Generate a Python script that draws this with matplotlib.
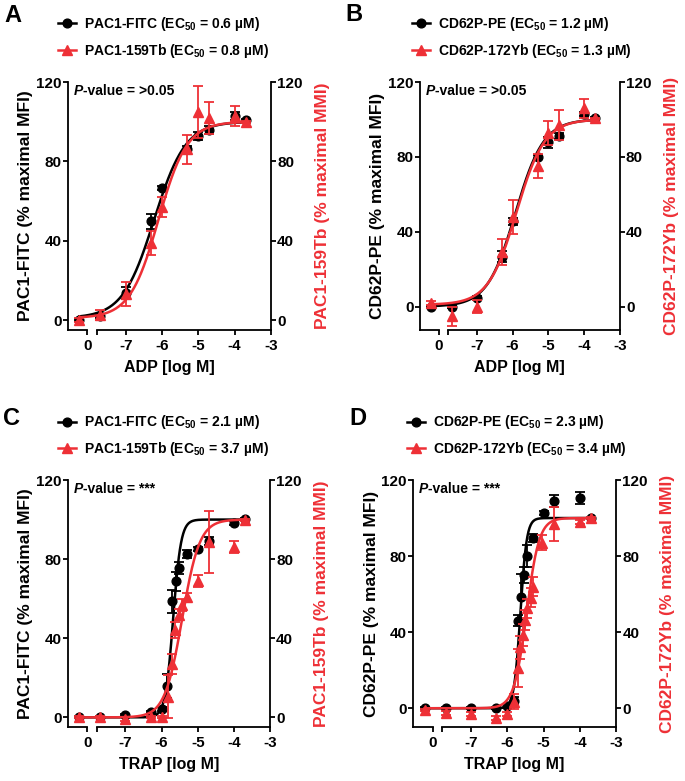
import numpy as np
import matplotlib.pyplot as plt
from matplotlib.lines import Line2D
import matplotlib.transforms as mtransforms

plt.rcParams['font.family'] = ['Liberation Sans', 'DejaVu Sans']
plt.rcParams['font.weight'] = 'bold'
plt.rcParams['axes.labelweight'] = 'bold'
plt.rcParams['mathtext.fontset'] = 'custom'
plt.rcParams['mathtext.rm'] = 'Liberation Sans:bold'
plt.rcParams['mathtext.bf'] = 'Liberation Sans:bold'
plt.rcParams['mathtext.it'] = 'Liberation Sans:bold:italic'
plt.rcParams['mathtext.default'] = 'rm'

RED = '#EE3036'
Z = -8.28  # where the "0" concentration sits on the broken axis

# --- A: ADP, PAC1 ---
a_x = [Z, -7.7, -7, -6.3, -6, -5.3, -5, -4.7, -4, -3.7]
a_fitc = [0, 2, 13.8, 49.7, 66.5, 86, 92.6, 96, 102.7, 100.7]
a_fitc_err = [0.5, 1, 3, 3.7, 1, 1.5, 2, 2, 2, 0.5]
a_tb = [0, 2.5, 13, 38.7, 57, 86, 105, 102, 103, 100]
a_tb_err = [1, 2.5, 6, 6, 5, 7.5, 13, 8, 5, 0.5]

# --- B: ADP, CD62P ---
b_x = [Z, -7.7, -7, -6.3, -6, -5.3, -5, -4.7, -4, -3.7]
b_pe = [-0.4, 0, 4.5, 26.7, 45.5, 80, 87.7, 91, 103, 100.7]
b_pe_err = [0.5, 1, 1, 3, 2, 1, 3, 1.5, 1, 0.5]
b_yb = [2, -5.3, 0, 29, 48, 75, 92.7, 97, 106, 100.5]
b_yb_err = [1, 5, 3.5, 7, 9, 6.5, 6.5, 8, 5, 0.5]

# --- C: TRAP, PAC1 ---
c_x_fitc = [Z, -7.7, -7, -6.3, -6, -5.84, -5.7, -5.6, -5.52, -5.3, -5, -4.7, -4, -3.7]
c_fitc = [0, 0, 1, 2.5, 4.2, 16, 58.6, 68.7, 75.4, 82.7, 85, 89, 98.2, 100.4]
c_fitc_err = [0.5, 0.5, 0.5, 0.5, 1, 6, 6, 5, 3, 2, 1, 2, 1, 0.5]
c_x_tb = [Z, -7.7, -7, -6.3, -6, -5.82, -5.7, -5.64, -5.52, -5.43, -5.3, -5, -4.7, -4, -3.7]
c_tb = [0, 0, -1, 0, 0, 10.5, 27, 44, 52, 57, 61, 69, 88.5, 86, 100]
c_tb_err = [0.5, 0.5, 1, 0.5, 0.5, 11, 5, 4, 3, 3, 2, 3, 15.6, 3, 0.5]

# --- D: TRAP, CD62P ---
d_x_pe = [Z, -7.7, -7, -6.3, -6, -5.82, -5.7, -5.62, -5.54, -5.47, -5.3, -5, -4.7, -4, -3.7]
d_pe = [0, 0, 0, 0, 1, 4, 46, 58.5, 70, 80, 89.5, 102.5, 109, 110.5, 100]
d_pe_err = [0.5, 0.5, 0.5, 0.5, 1, 2, 3, 12, 4, 6, 2, 1, 3, 3, 0.5]
d_x_yb = [Z, -7.7, -7, -6.3, -6, -5.82, -5.7, -5.64, -5.56, -5.5, -5.45, -5.36, -5.29, -5.04, -4.7, -4, -3.7]
d_yb = [-1, -2.6, -3.2, -5.3, -3, 3.5, 21, 32, 38.5, 46.4, 52.5, 58, 64, 87, 97, 98, 100]
d_yb_err = [0.5, 1, 1, 1, 1, 4, 10, 6, 6, 5, 5, 5, 5, 4, 9, 1, 0.5]

# fitted 4PL parameters: bottom, top, logEC50, hill
a_fit = [(1, 100, -6.22, 1.0), (1, 100, -6.10, 1.1)]
b_fit = [(0, 100, -5.92, 1.1), (1, 100, -5.89, 1.1)]
c_fit = [(0, 100, -5.68, 4.0), (0, 100, -5.43, 1.8)]
d_fit = [(0, 100, -5.64, 5.0), (0, 100, -5.47, 2.5)]


def logistic(x, p):
    bot, top, lec, h = p
    return bot + (top - bot) / (1 + 10 ** ((lec - x) * h))


panels = [
    ('A', [0.0988, 0.5775, 0.2968, 0.3175], -5, 'ADP [log M]',
     'PAC1-FITC (% maximal MFI)', 'PAC1-159Tb (% maximal MMI)',
     'PAC1-FITC (EC$_{50}$ = 0.6 µM)', 'PAC1-159Tb (EC$_{50}$ = 0.8 µM)', '>0.05',
     a_x, a_fitc, a_fitc_err, a_x, a_tb, a_tb_err, a_fit, -0.05),
    ('B', [0.6127, 0.5775, 0.292, 0.3175], -12.5, 'ADP [log M]',
     'CD62P-PE (% maximal MFI)', 'CD62P-172Yb (% maximal MMI)',
     'CD62P-PE (EC$_{50}$ = 1.2 µM)', 'CD62P-172Yb (EC$_{50}$ = 1.3 µM)', '>0.05',
     b_x, b_pe, b_pe_err, b_x, b_yb, b_yb_err, b_fit, -0.04),
    ('C', [0.0988, 0.0688, 0.2953, 0.3166], -5, 'TRAP [log M]',
     'PAC1-FITC (% maximal MFI)', 'PAC1-159Tb (% maximal MMI)',
     'PAC1-FITC (EC$_{50}$ = 2.1 µM)', 'PAC1-159Tb (EC$_{50}$ = 3.7 µM)', '***',
     c_x_fitc, c_fitc, c_fitc_err, c_x_tb, c_tb, c_tb_err, c_fit, -0.05),
    ('D', [0.603, 0.0688, 0.2964, 0.3166], -10, 'TRAP [log M]',
     'CD62P-PE (% maximal MFI)', 'CD62P-172Yb (% maximal MMI)',
     'CD62P-PE (EC$_{50}$ = 2.3 µM)', 'CD62P-172Yb (EC$_{50}$ = 3.4 µM)', '***',
     d_x_pe, d_pe, d_pe_err, d_x_yb, d_yb, d_yb_err, d_fit, -0.03),
]

letter_pos = {'A': (4, 4), 'B': (345, 3), 'C': (3, 407), 'D': (349, 407)}

fig = plt.figure(figsize=(6.85, 7.81), dpi=100)

for (letter, rect, ybot, xlab, ylab, ylab2, lab1, lab2, pval,
     x1, y1, e1, x2, y2, e2, fits, legx) in panels:
    ax = fig.add_axes(rect)
    ax2 = ax.twinx()
    for a in (ax, ax2):
        a.set_xlim(-8.6, -3)
        a.set_ylim(ybot, 120)
        a.set_yticks([0, 40, 80, 120])
        for s in ('top', 'bottom'):
            a.spines[s].set_visible(False)
        a.tick_params(direction='out', length=3.5, width=1.3, labelsize=11, pad=1)
    ax.spines['right'].set_visible(False)
    ax2.spines['left'].set_visible(False)
    ax.spines['left'].set_linewidth(1.3)
    ax2.spines['right'].set_linewidth(1.3)
    ax2.tick_params(labelcolor='black')

    # broken x axis
    trans = mtransforms.blended_transform_factory(ax.transData, ax.transAxes)
    ax.plot([-8.6, -8.06], [0, 0], color='black', lw=1.3, transform=trans, clip_on=False)
    ax.plot([-7.8, -3], [0, 0], color='black', lw=1.3, transform=trans, clip_on=False)
    ax.set_xticks([-8.06, -7.8, -7, -6, -5, -4, -3])
    ax.set_xticklabels(['0', '', '-7', '-6', '-5', '-4', '-3'])
    ax.tick_params(axis='x', pad=3)
    for lbl in ax.get_xticklabels() + ax.get_yticklabels() + ax2.get_yticklabels():
        lbl.set_fontweight('bold')

    xx = np.linspace(Z, -3.7, 300)
    ax.plot(xx, logistic(xx, fits[0]), color='black', lw=1.8, zorder=3)
    ax.errorbar(x1, y1, yerr=e1, fmt='o', color='black', ms=6.3, capsize=3.8,
                elinewidth=1.3, capthick=1.3, zorder=4)
    ax2.plot(xx, logistic(xx, fits[1]), color=RED, lw=1.8, zorder=3)
    ax2.errorbar(x2, y2, yerr=e2, fmt='^', color=RED, ms=6.8, capsize=3.8,
                 elinewidth=1.3, capthick=1.3, zorder=4)

    ax.set_xlabel(xlab, fontsize=11.5, fontweight='bold', labelpad=5)
    ax.set_ylabel(ylab, fontsize=12.5, fontweight='bold', labelpad=2)
    ax2.set_ylabel(ylab2, fontsize=12.5, fontweight='bold', color=RED, labelpad=9)

    t = ax.text(0.03, 0.99, 'P', style='italic', fontsize=10, fontweight='bold',
                transform=ax.transAxes, va='top', ha='left')
    ax.annotate('-value = ' + pval, xy=(1, 0), xycoords=t, va='bottom',
                ha='left', fontsize=10, fontweight='bold')

    handles = [Line2D([], [], color='black', marker='o', ms=6.3, lw=1.8),
               Line2D([], [], color=RED, marker='^', ms=6.8, lw=1.8)]
    ax.legend(handles, [lab1, lab2], loc='lower left', bbox_to_anchor=(legx, 1.09),
              frameon=False, handlelength=1.3, handletextpad=0.6,
              labelspacing=0.6, borderpad=0, borderaxespad=0,
              prop={'size': 10, 'weight': 'bold'})

    lx, ly = letter_pos[letter]
    fig.text(lx / 685, 1 - ly / 781, letter, fontsize=17, fontweight='bold',
             va='top', ha='left')

fig.savefig('out.png', dpi=100)
